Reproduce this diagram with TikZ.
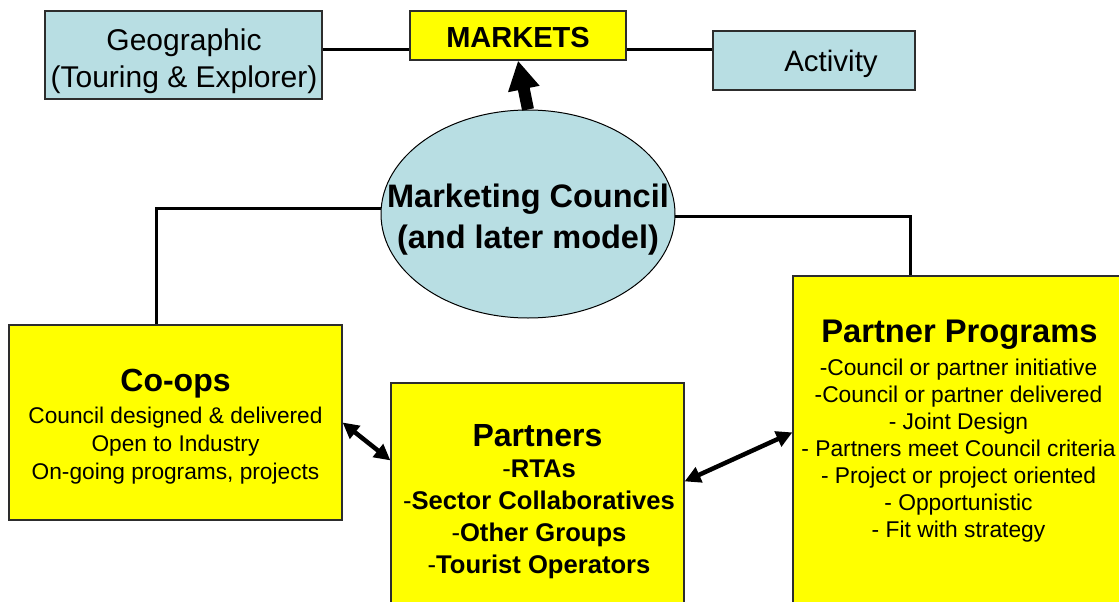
\documentclass[tikz,border=0pt]{standalone}
\usepackage{fontspec}
\setmainfont{Liberation Sans}
\usetikzlibrary{arrows.meta,shapes.geometric}
\definecolor{boxblue}{RGB}{184,222,227}
\definecolor{boxyellow}{RGB}{255,255,0}
\definecolor{edge}{RGB}{45,45,45}

\begin{document}
\begin{tikzpicture}[x=1pt,y=-1pt,
  bluebox/.style={draw=edge,line width=1.2pt,fill=boxblue,rectangle,inner sep=0pt},
  yellowbox/.style={draw=edge,line width=1.2pt,fill=boxyellow,rectangle,inner sep=0pt},
  conn/.style={line width=3pt,black},
  biarrow/.style={line width=4.5pt,black,
    {Triangle[length=16pt,width=16pt]}-{Triangle[length=16pt,width=16pt]}},
  title/.style={font=\bfseries\fontsize{32}{36}\selectfont,inner sep=0pt},
  txt/.style={align=center,inner sep=0pt},
  ]
\useasboundingbox (0,0) rectangle (1119,602);
\clip (0,0) rectangle (1119,602);

% market categories
\node[bluebox,minimum width=277pt,minimum height=88pt] (geo) at (183.5,55) {};
\node[txt,font=\fontsize{30}{37}\selectfont] (geotext) at (184,61)
      {Geographic\\(Touring \& Explorer)};
\node[yellowbox,minimum width=216pt,minimum height=49pt] (markets) at (518,35.5) {};
\node[txt,font=\bfseries\fontsize{29}{32}\selectfont] (marketstext) at (518,37.5) {MARKETS};
\node[bluebox,minimum width=202pt,minimum height=59pt] (activity) at (814,60.5) {};
\node[txt,font=\fontsize{29.5}{32}\selectfont] (activitytext) at (831,64) {Activity};

% central council
\node[ellipse,draw=black,line width=1pt,fill=boxblue,minimum width=294pt,
      minimum height=208pt,inner sep=0pt] (council) at (528,214) {};
\node[txt,font=\bfseries\fontsize{32.5}{41}\selectfont]
      (counciltext) at (528,220) {Marketing Council\\(and later model)};

% program boxes
\node[yellowbox,minimum width=333pt,minimum height=195pt] (coops) at (175.5,422.5) {};
\node[title] (coopstitle) at (175.5,384) {Co-ops};
\node[txt,font=\fontsize{22.7}{28}\selectfont] (coopsbody) at (175.5,446)
  {Council designed \& delivered\\Open to Industry\\On-going programs, projects};

\node[yellowbox,minimum width=293pt,minimum height=237pt] (partners) at (537.5,501.5) {};
\node[title] (partnerstitle) at (537.5,436) {Partners};
\node[txt,font=\bfseries\fontsize{25.6}{32}\selectfont] (partnersbody) at (539,519)
  {{\mdseries -}RTAs\\{\mdseries -}Sector Collaboratives\\{\mdseries -}Other Groups\\{\mdseries -}Tourist Operators};

\node[yellowbox,minimum width=337pt,minimum height=344pt] (pprog) at (961.5,448) {};
\node[title,font=\bfseries\fontsize{32.7}{36}\selectfont] (pprogtitle) at (959.5,335) {Partner Programs};
\node[txt,font=\fontsize{22.8}{27}\selectfont] (pprogbody) at (958.5,451)
  {-Council or partner initiative\\-Council or partner delivered\\- Joint Design\\
   - Partners meet Council criteria\\- Project or project oriented\\- Opportunistic\\- Fit with strategy};

% connectors
\draw[conn] ([yshift=5pt]geo.east) -- ([yshift=-14.5pt]markets.west);
\draw[conn] ([yshift=-14.5pt]markets.east) -- ([yshift=10.5pt]activity.west);
\draw[line width=12pt,black,-{Triangle[length=29pt,width=30pt]}] (council.north) -- (markets.south);
\draw[conn] (council.178) -| ([xshift=-19.5pt]coops.north);
\draw[conn] (council.359) -| ([xshift=-51.5pt]pprog.north);
\draw[biarrow] (coops.east) -- ([yshift=-78pt]partners.north west);
\draw[biarrow] ([yshift=-99pt]partners.north east) -- ([yshift=-157pt]pprog.north west);
\end{tikzpicture}
\end{document}
